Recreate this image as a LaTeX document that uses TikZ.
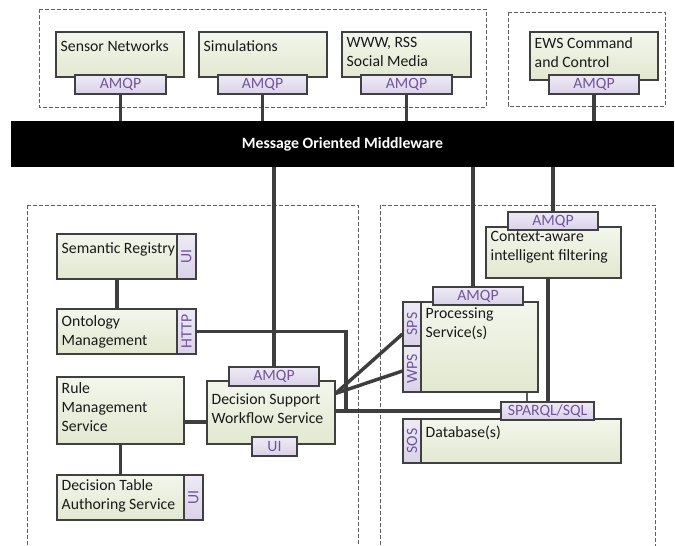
\documentclass[tikz,border=0pt]{standalone}
\usepackage{fontspec}
\setmainfont{Carlito}
\usepackage{xcolor}
\usepackage{tikz}
\usetikzlibrary{positioning,fit,shadows}

\definecolor{boxtop}{RGB}{243,246,236}
\definecolor{boxbot}{RGB}{226,232,208}
\definecolor{tabtop}{RGB}{238,234,245}
\definecolor{tabbot}{RGB}{218,210,232}
\definecolor{tabtext}{RGB}{112,84,160}
\definecolor{edgecol}{RGB}{64,64,64}
\definecolor{wirecol}{RGB}{62,62,62}
\definecolor{groupcol}{RGB}{95,95,95}

\newcommand{\labfont}{\fontsize{11.8}{14.3}\selectfont}

\tikzset{
  comp/.style={draw=edgecol, line width=0.8pt, top color=boxtop, bottom color=boxbot, inner sep=0pt,
    drop shadow={shadow xshift=1pt, shadow yshift=-1pt, fill=black!25, opacity=0.5}},
  iface/.style={draw=edgecol, line width=0.8pt, top color=tabtop, bottom color=tabbot, inner sep=0pt,
    drop shadow={shadow xshift=1pt, shadow yshift=-1pt, fill=black!25, opacity=0.5}},
  tabtxt/.style={text=tabtext, inner sep=0pt},
  ifacetxt/.style={tabtxt, rotate=90},
  txt/.style={anchor=north west, inner sep=0pt, align=left, text=black!90, execute at begin node={\strut}},
  wire/.style={draw=wirecol, line width=2.6pt},
  group/.style={draw=groupcol, line width=0.6pt, dash pattern=on 3pt off 1.5pt},
  mw/.style={fill=black, inner sep=0pt},
  mwtxt/.style={text=white, inner sep=0pt, font=\labfont\bfseries}
}

\begin{document}
\begin{tikzpicture}[x=0.75pt, y=-0.75pt, font=\labfont]
\useasboundingbox (0,0) rectangle (675,546);

% Groups
\draw[group] (39,9) rectangle (486,107);
\draw[group] (508,12) rectangle (665,106);
\draw[group] (27,205) rectangle (358,560);
\draw[group] (380,205) rectangle (655,560);

% Middleware
\node[mw, fit={(11,121) (674,167)}] (mom) {};
\node[mwtxt] (mom-t) at (mom) {Message Oriented Middleware};

% Sources
\node[comp, fit={(56,32) (184,77)}] (sensor) {};
\node[iface, fit={(75,75) (166,94)}] (sensor-amqp) {};
\node[tabtxt] (sensor-amqp-t) at (sensor-amqp) {AMQP};
\node[txt] (sensor-t) at ([shift={(5,6)}]sensor.north west) {Sensor Networks};

\node[comp, fit={(199,32) (327,77)}] (sim) {};
\node[iface, fit={(218,75) (307,94)}] (sim-amqp) {};
\node[tabtxt] (sim-amqp-t) at (sim-amqp) {AMQP};
\node[txt] (sim-t) at ([shift={(5,6)}]sim.north west) {Simulations};

\node[comp, fit={(342,32) (471,77)}] (web) {};
\node[iface, fit={(361,75) (452,94)}] (web-amqp) {};
\node[tabtxt] (web-amqp-t) at (web-amqp) {AMQP};
\node[txt] (web-t) at ([shift={(5,5.5)}]web.north west) {WWW, RSS\\Social Media};

\node[comp, fit={(530,32) (658,80)}] (ews) {};
\node[iface, fit={(549,75) (639,94)}] (ews-amqp) {};
\node[tabtxt] (ews-amqp-t) at (ews-amqp) {AMQP};
\node[txt] (ews-t) at ([shift={(5,5.5)}]ews.north west) {EWS Command\\and Control};

% Decision support side
\node[comp, fit={(57,234) (177,279)}] (sreg) {};
\node[iface, fit={(177,234) (196,279)}] (sreg-ui) {};
\node[ifacetxt] (sreg-ui-t) at (sreg-ui) {UI};
\node[txt] (sreg-t) at ([shift={(5,6.5)}]sreg.north west) {Semantic Registry};

\node[comp, fit={(57,309) (177,354)}] (onto) {};
\node[iface, fit={(177,309) (196,354)}] (http) {};
\node[ifacetxt] (http-t) at (http) {HTTP};
\node[txt] (onto-t) at ([shift={(5,6.5)}]onto.north west) {Ontology\\Management};

\node[comp, fit={(57,377) (184,444)}] (rms) {};
\node[txt] (rms-t) at ([shift={(5,5.5)}]rms.north west) {Rule\\Management\\Service};

\node[comp, fit={(57,475) (184,520)}] (dtas) {};
\node[iface, fit={(184,475) (203,520)}] (dtas-ui) {};
\node[ifacetxt] (dtas-ui-t) at (dtas-ui) {UI};
\node[txt] (dtas-t) at ([shift={(5,4.5)}]dtas.north west) {Decision Table\\Authoring Service};

\node[comp, fit={(207,381) (335,444)}] (dsws) {};
\node[iface, fit={(229,367) (319,386)}] (dsws-amqp) {};
\node[tabtxt] (dsws-amqp-t) at (dsws-amqp) {AMQP};
\node[iface, fit={(252,437) (297,456)}] (dsws-ui) {};
\node[tabtxt] (dsws-ui-t) at (dsws-ui) {UI};
\node[txt] (dsws-t) at ([shift={(5,13.3)}]dsws.north west) {Decision Support\\Workflow Service};

% Processing side
\node[comp, fit={(486,227) (621,278)}] (ctx) {};
\node[iface, fit={(508,212) (598,230)}] (ctx-amqp) {};
\node[tabtxt] (ctx-amqp-t) at (ctx-amqp) {AMQP};
\node[txt] (ctx-t) at ([shift={(5,4.7)}]ctx.north west) {Context-aware\\intelligent filtering};

\node[comp, fit={(421,302) (538,392)}] (proc) {};
\node[iface, fit={(433,287) (523,305)}] (proc-amqp) {};
\node[tabtxt] (proc-amqp-t) at (proc-amqp) {AMQP};
\node[iface, fit={(403,302) (421,346)}] (sps) {};
\node[ifacetxt] (sps-t) at (sps) {SPS};
\node[iface, fit={(403,346) (421,392)}] (wps) {};
\node[ifacetxt] (wps-t) at (wps) {WPS};
\node[txt] (proc-t) at ([shift={(5,6.3)}]proc.north west) {Processing\\Service(s)};

\node[comp, fit={(421,419) (621,463)}] (db) {};
\node[iface, fit={(403,419) (421,463)}] (sos) {};
\node[ifacetxt] (sos-t) at (sos) {SOS};
\node[txt] (db-t) at ([shift={(5,5)}]db.north west) {Database(s)};
\node[iface, fit={(501,402) (594,420)}] (sparql) {};
\node[tabtxt] (sparql-t) at (sparql) {SPARQL/SQL};

% Connections to middleware
\foreach \src in {sensor,sim,web,ews}
    \draw[wire] (\src-amqp.south) -- (\src-amqp.south |- mom.north);

\path ([shift={(-5,0)}]proc-amqp.north) coordinate (proc-in);
\draw[wire] (dsws-amqp.north) -- (dsws-amqp.north |- mom.south);
\draw[wire] (proc-in) -- (proc-in |- mom.south);
\draw[wire] (ctx-amqp.north) -- (ctx-amqp.north |- mom.south);

% Local links
\coordinate (hjoin) at (346,411);
\path ([shift={(0,9.5)}]dsws.west) coordinate (dsws-in);
\path ([shift={(0,13)}]dsws.north east) coordinate (dsws-fan);
\path ([shift={(-5.5,0)}]ctx.south) coordinate (ctx-out);
\path ([shift={(47.5,0)}]proc.south) coordinate (proc-out);

\draw[wire] (sreg.south) -- (onto.north);
\draw[wire] (http.east) -| (hjoin);
\draw[wire] (dsws-in -| rms.east) -- (dsws-in);
\draw[wire] (rms.south) -- (dtas.north);
\draw[wire] (dsws.east |- sparql.west) -- (sparql.west);
\draw[wire] (dsws-fan) -- ([shift={(0,10)}]sps.west);
\draw[wire] (dsws-fan) -- ([shift={(0,2)}]wps.west);
\draw[wire] (ctx-out) -- (ctx-out |- sparql.north);
\draw[wire, line width=2pt, draw=wirecol!85] (proc-out) -- (proc-out |- sparql.north);

\end{tikzpicture}
\end{document}
